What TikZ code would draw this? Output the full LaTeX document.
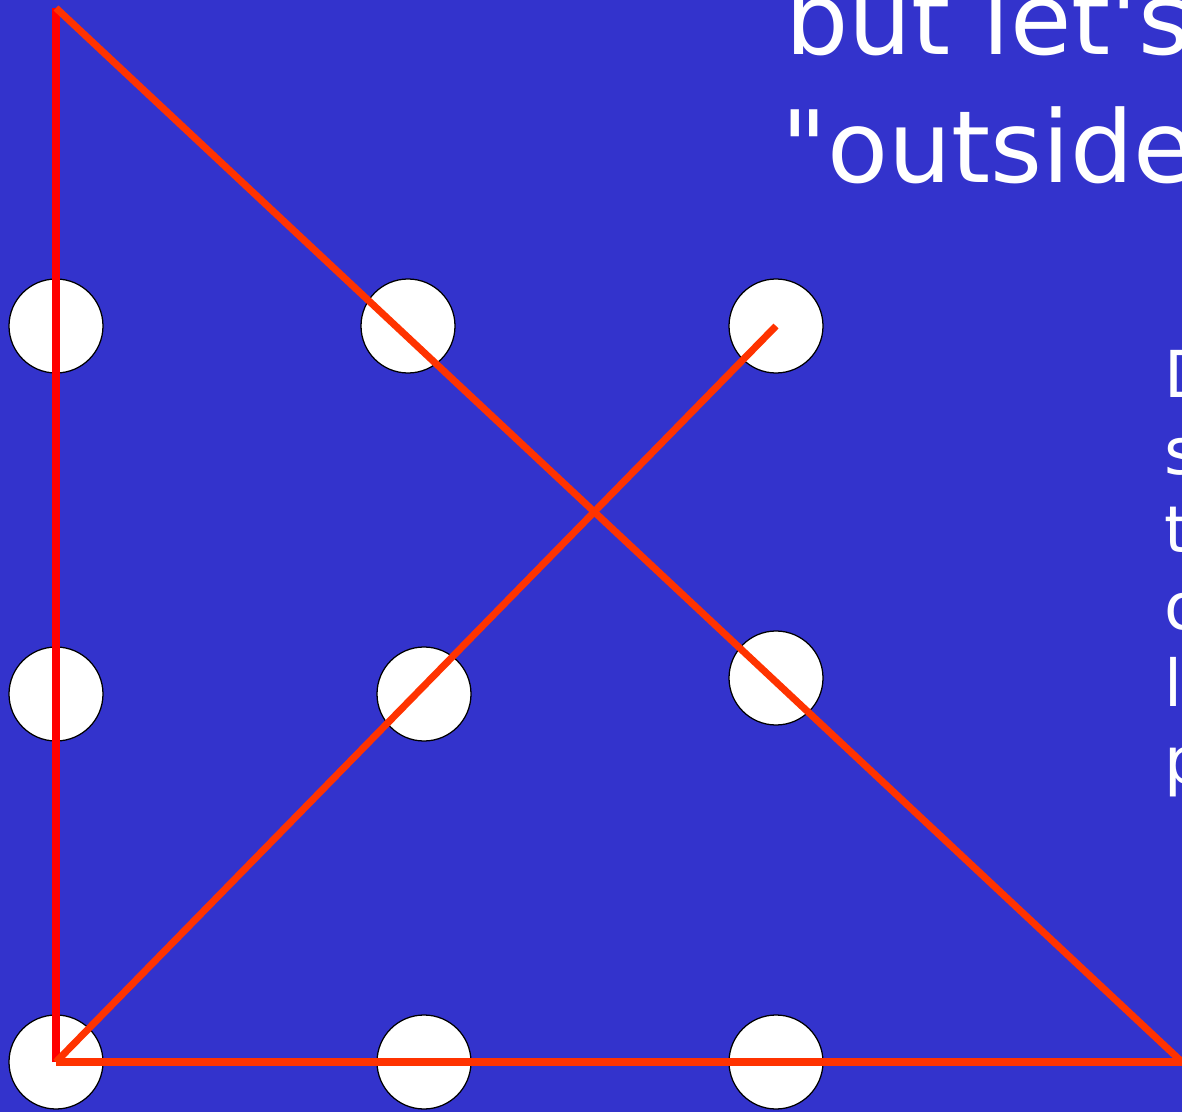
\documentclass[tikz,border=0pt]{standalone}
\usepackage{fontspec}
\setmainfont{DejaVu Sans}[Ligatures=TeXOff]
\usetikzlibrary{positioning}
\definecolor{slideBlue}{HTML}{3333CC}
\definecolor{penRed}{HTML}{FF0000}
\definecolor{penOrange}{HTML}{FF3300}
\tikzset{
  dot/.style={circle, draw=black, line width=.9pt, fill=white,
    minimum size=23.5mm, inner sep=0pt},
  stroke/.style={line width=5pt, draw=penOrange},
  firststroke/.style={stroke, draw=penRed},
  bigtext/.style={text=white, inner sep=0pt, anchor=base west,
    font=\fontsize{71}{71}\selectfont},
  sidetext/.style={text=white, inner sep=0pt, anchor=base west,
    font=\fontsize{46}{46}\selectfont}
}

\begin{document}
\begin{tikzpicture}[x=.25mm, y=-.25mm]
  \useasboundingbox (0,0) rectangle (1182,1112);
  \clip (0,0) rectangle (1182,1112);
  \fill[slideBlue] (0,0) rectangle (1182,1112);

  % the nine dots
  \foreach \n/\x/\y in {a1/56/326, a2/408/326, a3/776/326,
                        b1/56/694, b2/424/694, b3/776/678,
                        c1/56/1062, c2/424/1062, c3/776/1062}{
    \node[dot] (\n) at (\x,\y) {};
  }

  % corners outside the square
  \coordinate (top) at (56,8);
  \coordinate (far) at (1182,1062);

  \draw[firststroke] (c1.center) -- (top);
  \draw[stroke] (top) -- (far);
  \draw[stroke] (far) -- (c1.center);
  \draw[stroke] (c1.center) -- (a3.center);

  \node[bigtext] (line1) at (785,55) {but let's};
  \node[bigtext] (line2) at (781,183) {"outside};

  \foreach \n/\t/\y in {s1/D/398, s2/s/475, s3/t/552, s4/o/629, s5/l/706, s6/p/783}{
    \node[sidetext] (\n) at (1164,\y) {\t};
  }
\end{tikzpicture}
\end{document}
